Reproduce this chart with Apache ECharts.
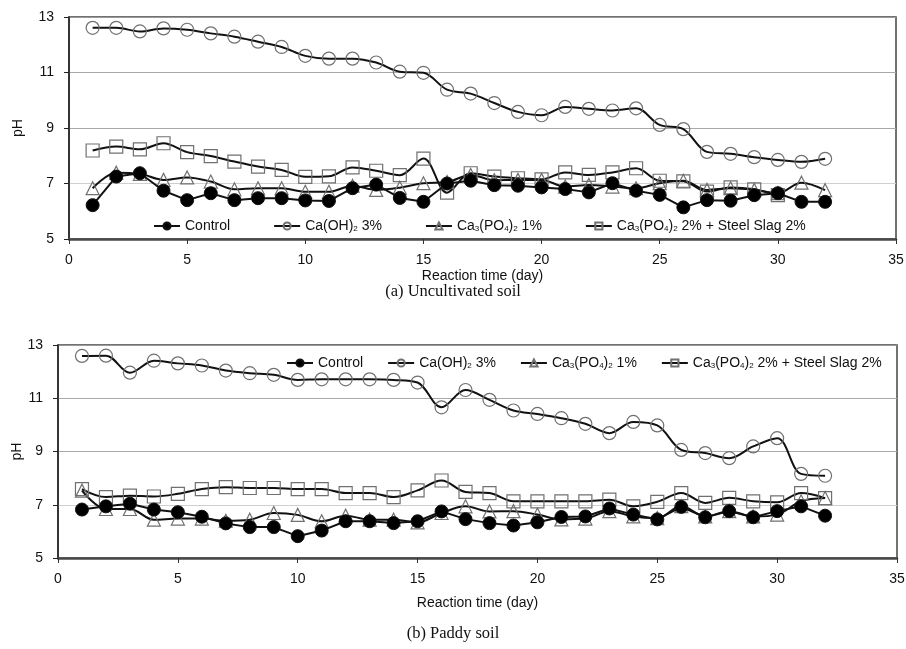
<!DOCTYPE html>
<html>
<head>
<meta charset="utf-8">
<title>pH vs reaction time</title>
<script src="https://cdn.jsdelivr.net/npm/echarts@6/dist/echarts.min.js"></script>
<style>
	body{margin:0;background:#fff;}
	#main{width:906px;height:649px;}
</style>
</head>
<body>
<div id="main"></div>
<script>
var days = [1,2,3,4,5,6,7,8,9,10,11,12,13,14,15,16,17,18,19,20,21,22,23,24,25,26,27,28,29,30,31,32];
var names = ['Control', 'Ca(OH)2 3%', 'Ca3(PO4)2 1%', 'Ca3(PO4)2 2% + Steel Slag 2%'];

// (a) Uncultivated soil
var ctrlA = [6.22,7.25,7.37,6.74,6.40,6.65,6.40,6.47,6.47,6.39,6.37,6.83,6.96,6.48,6.34,7.00,7.10,6.94,6.92,6.86,6.80,6.68,7.01,6.74,6.59,6.14,6.40,6.38,6.58,6.65,6.34,6.34];
var caA = [12.61,12.61,12.48,12.59,12.54,12.41,12.29,12.11,11.92,11.60,11.50,11.50,11.36,11.03,10.99,10.38,10.24,9.90,9.58,9.46,9.76,9.69,9.63,9.71,9.11,8.96,8.14,8.07,7.95,7.85,7.78,7.89];
var triA = [6.83,7.39,7.35,7.13,7.22,7.07,6.79,6.83,6.83,6.70,6.70,6.92,6.77,6.85,7.01,7.05,7.31,7.12,7.13,7.13,6.89,6.95,6.89,6.83,7.01,7.10,6.77,6.83,6.77,6.65,7.03,6.76];
var sqA = [8.19,8.33,8.23,8.45,8.13,7.99,7.79,7.61,7.49,7.24,7.26,7.58,7.46,7.30,7.90,6.67,7.37,7.25,7.19,7.15,7.40,7.31,7.40,7.55,7.10,7.08,6.71,6.86,6.79,6.58,null,null];

// (b) Paddy soil
var ctrlB = [6.82,6.94,7.04,6.82,6.72,6.55,6.30,6.16,6.16,5.82,6.03,6.38,6.38,6.31,6.38,6.75,6.46,6.31,6.22,6.34,6.54,6.56,6.86,6.63,6.45,6.92,6.53,6.76,6.53,6.76,6.94,6.59];
var caB = [12.59,12.60,11.96,12.41,12.31,12.23,12.04,11.94,11.88,11.69,11.71,11.71,11.71,11.69,11.59,10.66,11.31,10.94,10.54,10.41,10.25,10.04,9.69,10.11,9.98,9.06,8.94,8.75,9.19,9.50,8.16,8.09];
var triB = [7.53,6.84,6.84,6.44,6.48,6.48,6.40,6.44,6.69,6.62,6.38,6.59,6.44,6.44,6.34,6.69,6.94,6.75,6.76,6.63,6.45,6.48,6.76,6.56,6.50,6.95,6.56,6.76,6.56,6.63,7.13,7.25];
var sqB = [7.59,7.29,7.34,7.31,7.41,7.59,7.66,7.63,7.63,7.59,7.59,7.44,7.44,7.29,7.54,7.91,7.48,7.44,7.13,7.13,7.13,7.13,7.19,6.94,7.11,7.44,7.07,7.26,7.13,7.09,7.44,7.25];

var captions = ['(a) Uncultivated soil', '(b) Paddy soil'];
var sansFont = '"Liberation Sans", Arial, sans-serif';
var serifFont = '"Liberation Serif", "Times New Roman", serif';

// legend texts with small subscripts
var legendText = {
	'Control': '{n|Control}',
	'Ca(OH)2 3%': '{n|Ca(OH)}{s|2}{n| 3%}',
	'Ca3(PO4)2 1%': '{n|Ca}{s|3}{n|(PO}{s|4}{n|)}{s|2}{n| 1%}',
	'Ca3(PO4)2 2% + Steel Slag 2%': '{n|Ca}{s|3}{n|(PO}{s|4}{n|)}{s|2}{n| 2% + Steel Slag 2%}'
};

function pairs(vals){
	var out = [];
	for (var k = 0; k < days.length; k++) {
		out.push([days[k], vals[k]]);
	}
	return out;
}

function makeSeries(idx, name, vals, kind){
	var s = {
		name: name,
		type: 'line',
		xAxisIndex: idx,
		yAxisIndex: idx,
		data: pairs(vals),
		symbolSize: 13,
		lineStyle: {color: '#111', width: 2},
		emphasis: {disabled: true},
		connectNulls: false
	};
	if (kind == 'ctrl') {
		s.symbol = 'circle';
		s.smooth = false;
		s.z = 5;
		s.itemStyle = {color: '#000', borderColor: '#111', borderWidth: 1};
	} else {
		s.symbol = kind;
		s.smooth = 0.35;
		s.itemStyle = {color: 'rgba(255,255,255,0)', borderColor: '#707070', borderWidth: 1.2};
	}
	return s;
}

function makeLegend(left, top, gap){
	return {
		left: left,
		top: top,
		itemGap: gap,
		itemWidth: 26,
		itemHeight: 9,
		data: names,
		formatter: function(name){ return legendText[name]; },
		textStyle: {
			color: '#111',
			rich: {
				n: {fontSize: 14, fontFamily: sansFont, color: '#111'},
				s: {fontSize: 8, fontFamily: sansFont, color: '#111', verticalAlign: 'bottom'}
			}
		}
	};
}

function makeX(gridIdx, nameGap){
	return {
		type: 'value',
		gridIndex: gridIdx,
		min: 0,
		max: 35,
		interval: 5,
		name: 'Reaction time (day)',
		nameLocation: 'middle',
		nameGap: nameGap,
		nameMoveOverlap: false,
		nameTextStyle: {fontFamily: sansFont, fontSize: 14, color: '#111'},
		axisLine: {lineStyle: {color: '#4a4a4a', width: 2.5}},
		axisTick: {show: true, inside: false, length: 5, lineStyle: {color: '#333'}},
		axisLabel: {fontFamily: sansFont, fontSize: 14, color: '#111', margin: 14},
		splitLine: {show: false}
	};
}

function makeY(gridIdx, nameGap){
	return {
		type: 'value',
		gridIndex: gridIdx,
		min: 5,
		max: 13,
		interval: 2,
		name: 'pH',
		nameLocation: 'middle',
		nameRotate: 90,
		nameGap: nameGap,
		nameMoveOverlap: false,
		nameTextStyle: {fontFamily: sansFont, fontSize: 14, color: '#111'},
		axisLine: {show: true, lineStyle: {color: '#222', width: 1.5}},
		axisTick: {show: true, length: 5, lineStyle: {color: '#222'}},
		axisLabel: {fontFamily: sansFont, fontSize: 14, color: '#111', margin: 15},
		splitLine: {show: true, lineStyle: {color: ['#999', '#cfcfcf', '#a8a8a8', '#a8a8a8', '#999'], width: 1.2}}
	};
}

var myChart = echarts.init(document.getElementById('main'));

option = {
	backgroundColor: '#fff',
	animation: false,
	title: [
		{text: captions[0], left: 'center', top: 278, textStyle: {fontFamily: serifFont, fontSize: 16.5, fontWeight: 'normal', color: '#111'}},
		{text: captions[1], left: 'center', top: 620, textStyle: {fontFamily: serifFont, fontSize: 16.5, fontWeight: 'normal', color: '#111'}}
	],
	legend: [
		makeLegend(148, 214, 43),
		makeLegend(281, 351, 24)
	],
	grid: [
		{left: 69, top: 17, width: 827, height: 222, outerBoundsMode: 'none', containLabel: false, show: true, borderColor: '#444', borderWidth: 1.5, backgroundColor: 'transparent'},
		{left: 58, top: 345, width: 839, height: 213, outerBoundsMode: 'none', containLabel: false, show: true, borderColor: '#444', borderWidth: 1.5, backgroundColor: 'transparent'}
	],
	xAxis: [
		makeX(0, 30),
		makeX(1, 38)
	],
	yAxis: [
		makeY(0, 44),
		makeY(1, 34)
	],
	series: [
		makeSeries(0, names[1], caA, 'circle'),
		makeSeries(0, names[2], triA, 'triangle'),
		makeSeries(0, names[3], sqA, 'rect'),
		makeSeries(0, names[0], ctrlA, 'ctrl'),
		makeSeries(1, names[1], caB, 'circle'),
		makeSeries(1, names[2], triB, 'triangle'),
		makeSeries(1, names[3], sqB, 'rect'),
		makeSeries(1, names[0], ctrlB, 'ctrl')
	]
};

myChart.setOption(option);
</script>
</body>
</html>
